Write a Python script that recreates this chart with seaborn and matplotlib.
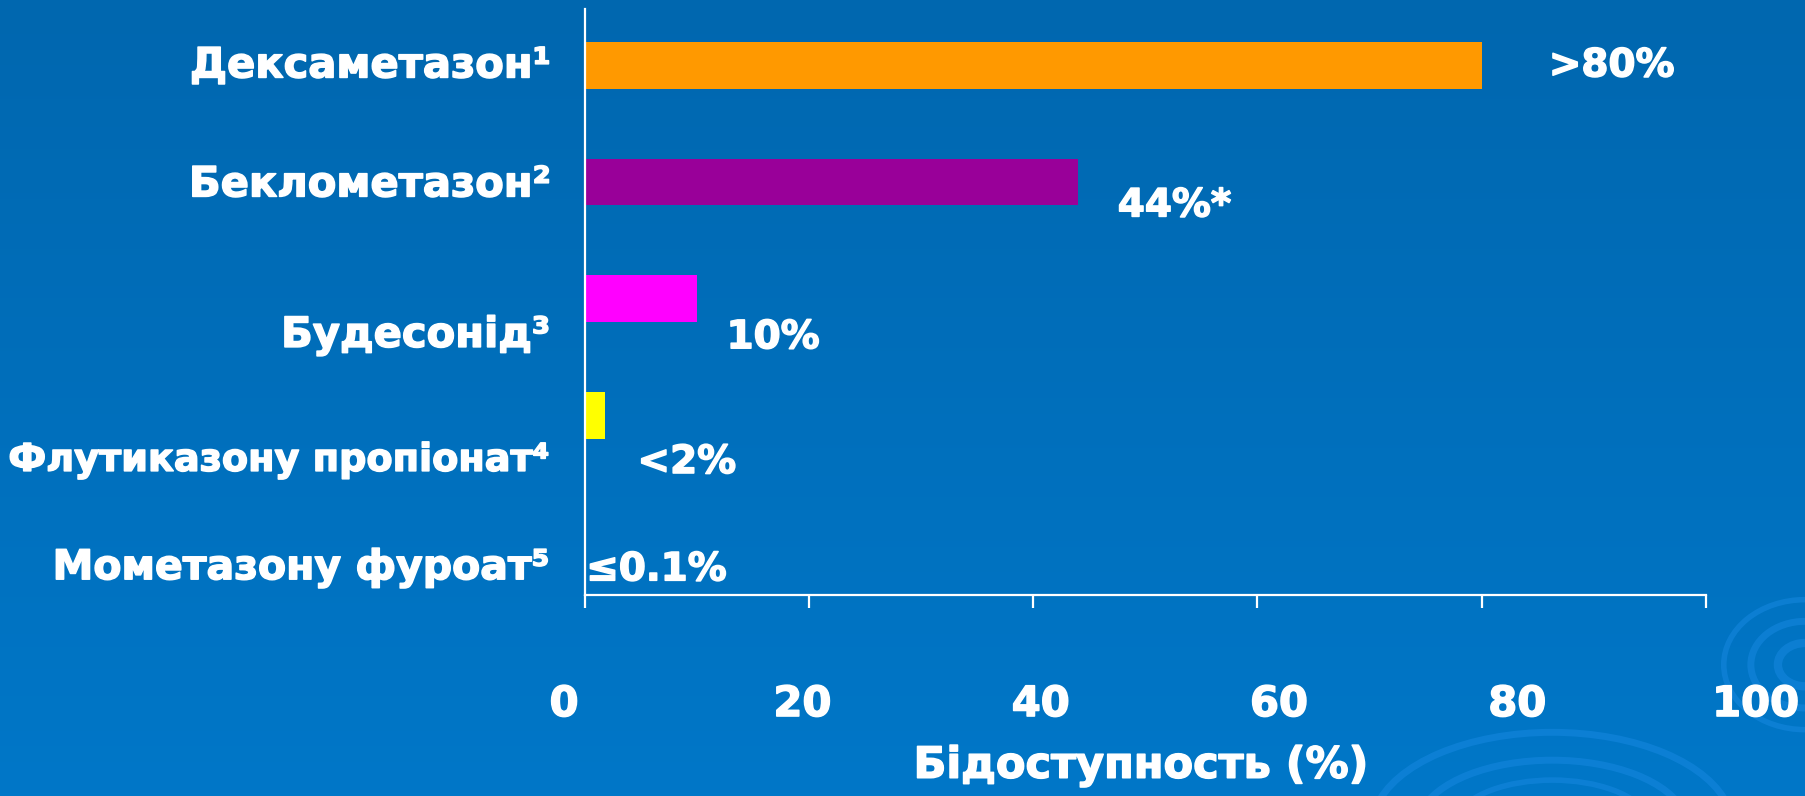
import numpy as np
import pandas as pd
import matplotlib
matplotlib.use("Agg")
import matplotlib.pyplot as plt
import matplotlib.patheffects as pe
import seaborn as sns
from matplotlib.patches import Arc

# data
drugs = ["Дексаметазон¹", "Беклометазон²", "Будесонід³",
         "Флутиказону пропіонат⁴", "Мометазону фуроат⁵"]
bioavail = [80, 44, 10, 1.8, 0.1]
value_labels = [">80%", "44%*", "10%", "<2%", "≤0.1%"]
bar_colors = ["#FF9900", "#990099", "#FF00FF", "#FFFF00", "#FFFF00"]
x_ticks = [0, 20, 40, 60, 80, 100]
x_title = "Бідоступность (%)"

df = pd.DataFrame({"drug": drugs, "bio": bioavail})

sns.set_theme(style="white")
plt.rcParams["font.family"] = ["DejaVu Sans"]
plt.rcParams["font.weight"] = "bold"

# slightly heavier strokes, the slide font is a very bold one
heavy = [pe.withStroke(linewidth=1.1, foreground="white")]

fig = plt.figure(figsize=(18.05, 7.96), dpi=100)

# slide background: vertical blue gradient
bg = fig.add_axes([0, 0, 1, 1], zorder=-10)
grad = np.linspace(0, 1, 256).reshape(-1, 1)
cmap = matplotlib.colors.LinearSegmentedColormap.from_list("bg", ["#0067AF", "#0077C8"])
bg.imshow(grad, aspect="auto", cmap=cmap, extent=[0, 1, 0, 1], origin="upper")
bg.set_xlim(0, 1)
bg.set_ylim(0, 1)
# faint swirl decoration in the bottom-right corner
for w, h, lw in [(0.20, 0.24, 5), (0.15, 0.17, 5), (0.11, 0.12, 4)]:
    bg.add_patch(Arc((0.86, -0.04), w, h, theta1=15, theta2=165,
                     color="#1688E0", lw=lw, alpha=0.55))
for r, lw in [(0.045, 4), (0.03, 5), (0.015, 6)]:
    bg.add_patch(Arc((1.0, 0.165), r * 2, r * 2 * 1805 / 796 * 0.8, theta1=90, theta2=270,
                     color="#1688E0", lw=lw, alpha=0.55))
bg.axis("off")

ax = fig.add_axes([0.324, 0.2525, 0.621, 0.7365])
ax.set_facecolor("none")
sns.barplot(data=df, x="bio", y="drug", hue="drug", palette=bar_colors,
            orient="h", width=0.4, legend=False, ax=ax, saturation=1,
            linewidth=0, edgecolor="none")

ax.set_xlim(0, 100)
ax.set_ylim(4.54, -0.486)
ax.set_xticks(x_ticks)
ax.set_xticklabels([])
ax.set_yticks([])
ax.set_xlabel("")
ax.set_ylabel("")
for s in ["top", "right"]:
    ax.spines[s].set_visible(False)
for s in ["left", "bottom"]:
    ax.spines[s].set_color("white")
    ax.spines[s].set_linewidth(1.6)
ax.tick_params(axis="x", direction="out", length=9, width=1.6, color="white", bottom=True)

# tick labels (spread slightly wider than the ticks as on the slide)
for t in x_ticks:
    ax.text(t * 1.063 - 1.85, -0.186, str(t), transform=ax.get_xaxis_transform(),
            ha="center", va="center", color="white", fontsize=30, fontweight="bold",
            clip_on=False, path_effects=heavy)

# category labels
label_dy = [0, 0.02, 0.31, 0.39, 0.31]
label_fs = [30, 30, 30, 27.5, 29.5]
for i, (name, dy, fs) in enumerate(zip(drugs, label_dy, label_fs)):
    ax.text(-3.1, i + dy, name, ha="right", va="center", color="white",
            fontsize=fs, fontweight="bold", clip_on=False, path_effects=heavy)

# value labels
val_pos = [(91.6, 0.0), (52.6, 1.2), (16.8, 2.33), (9.1, 3.4), (6.4, 4.32)]
for (vx, vy), txt in zip(val_pos, value_labels):
    ax.text(vx, vy, txt, ha="center", va="center", color="white",
            fontsize=28, fontweight="bold", clip_on=False, path_effects=heavy)

fig.text(0.632, 0.038, x_title, ha="center", va="center", color="white",
         fontsize=31, fontweight="bold", path_effects=heavy)

fig.savefig("out.png", dpi=100)
